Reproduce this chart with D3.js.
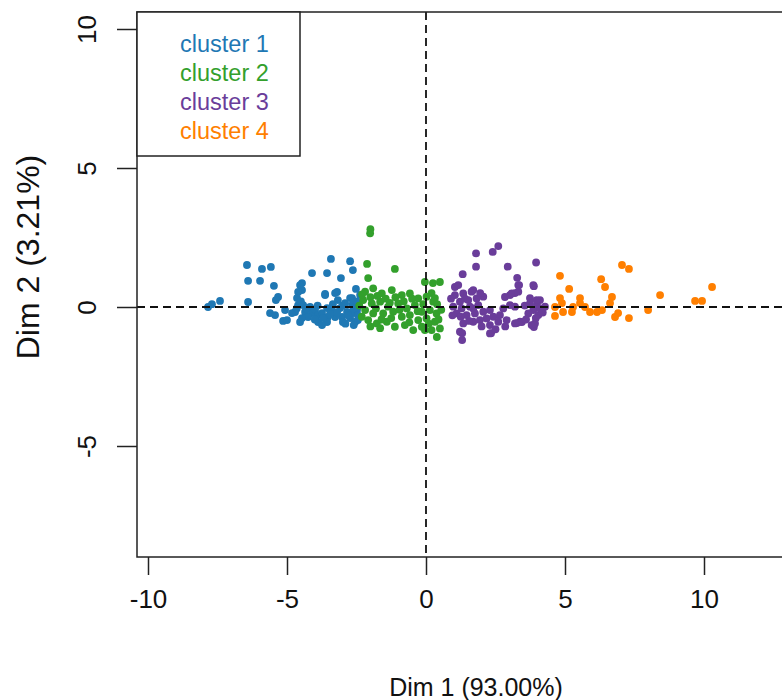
<!DOCTYPE html>
<html>
<head>
<meta charset="utf-8">
<script src="https://cdn.jsdelivr.net/npm/d3@7"></script>
<style>
  html, body { margin: 0; padding: 0; background: #fff; }
  svg text { font-family: "Liberation Sans", Arial, sans-serif; }
</style>
</head>
<body>
<svg id="chart" width="782" height="700"></svg>
<script>
const clusterNames = ["cluster 1", "cluster 2", "cluster 3", "cluster 4"];
const clusterColors = ["#1F78B4", "#33A02C", "#6A3D9A", "#FF7F00"];
const xTicks = [-10, -5, 0, 5, 10];
const yTicks = [-5, 0, 5, 10];
const xLabel = "Dim 1 (93.00%)";
const yLabel = "Dim 2 (3.21%)";

const cluster1 = [
  [-7.84,0.0],[-7.7,0.1],[-7.41,0.22],[-6.44,1.51],[-6.4,0.94],[-6.4,0.18],[-5.9,1.37],[-5.97,0.94],
  [-5.58,1.44],[-5.47,0.76],[-5.32,0.36],[-5.4,0.25],[-5.61,-0.22],[-5.43,-0.29],[-5.07,-0.11],[-5.14,-0.5],
  [-3.42,1.73],[-2.73,1.65],[-4.1,1.22],[-3.56,1.22],[-3.06,1.04],[-2.63,1.33],[-4.46,0.86],[-4.46,0.61],
  [-3.63,0.47],[-3.2,0.54],[-2.66,0.32],[-2.52,0.65],
  [-4.53,0.79],[-4.6,0.54],[-4.64,0.32],[-4.6,0.07],[-4.71,-0.18],[-4.42,0.07],[-4.35,-0.18],[-4.17,0.0],
  [-4.1,-0.22],[-3.99,-0.11],[-3.88,-0.29],[-3.74,-0.22],[-3.63,0.43],[-3.56,-0.04],[-3.53,-0.36],[-3.56,-0.54],
  [-3.38,-0.11],[-3.27,-0.36],[-3.27,0.5],[-3.17,0.25],[-3.09,-0.04],[-3.02,-0.36],[-2.99,-0.54],[-2.91,0.14],
  [-2.84,-0.18],[-2.73,0.32],[-2.66,0.07],[-2.73,-0.4],[-2.63,-0.22],[-2.48,-0.11],[-2.55,-0.54],[-3.88,-0.54],
  [-3.74,-0.65],[-4.24,-0.36],[-4.46,-0.4],[-4.82,-0.22],[-5.0,-0.47],[-2.37,0.43],[-2.45,-0.47],[-4.53,-0.54],
  [-4.5,0.2],[-4.3,-0.05],[-3.9,0.05],[-3.7,-0.4],[-3.45,-0.25],[-3.2,-0.2],[-3.0,0.05],[-2.8,-0.3],
  [-2.6,-0.05],[-2.5,0.2],[-2.45,-0.3],[-4.65,-0.05],[-3.35,0.1],[-2.9,-0.6],[-4.0,-0.45],[-2.6,-0.65]
];
const cluster2 = [
  [-2.01,2.65],[-2.0,2.8],[-2.12,1.55],[-2.08,1.04],[-1.12,1.37],[-0.04,0.9],[0.25,0.86],[0.2,0.5],
  [0.32,0.32],[0.5,0.9],[0.39,-1.08],[-0.04,-0.83],[-1.65,-0.76],
  [-2.19,0.55],[-1.9,0.67],[-1.59,0.49],[-1.23,0.61],[-0.87,0.43],[-0.58,0.49],[-0.28,0.31],[0.02,0.37],
  [0.26,0.19],[-2.26,0.25],[-1.95,0.13],[-1.65,0.19],[-1.36,0.01],[-1.0,0.13],[-0.69,-0.05],[-0.4,0.07],
  [-0.15,-0.17],[0.14,-0.11],[0.38,-0.23],[-2.19,-0.11],[-1.9,-0.23],[-1.54,-0.23],[-1.18,-0.17],[-0.87,-0.35],
  [-0.58,-0.29],[-0.28,-0.47],[0.02,-0.41],[0.32,-0.53],[-2.08,-0.47],[-1.77,-0.59],[-1.41,-0.53],[-1.12,-0.71],
  [-0.76,-0.65],[-0.46,-0.83],[-0.15,-0.71],[0.2,-0.83],[0.5,-0.77],[-2.31,-0.35],[-2.4,0.05],[-0.5,0.3],
  [-1.8,-0.05],[0.55,-0.1],[-1.1,0.35],[0.4,0.1],
  [-2.0,0.35],[-1.75,0.4],[-1.45,0.3],[-1.25,-0.4],[-0.95,-0.1],[-0.8,0.2],[-0.3,-0.15],[-0.1,0.1],
  [0.1,-0.6],[-0.6,-0.55],[-1.6,-0.45],[-2.0,-0.7],[-1.3,0.15],[0.45,-0.45],[-2.3,0.45]
];
const cluster3 = [
  [2.6,2.19],[2.4,1.98],[1.8,1.93],[3.96,1.6],[1.8,1.45],[2.94,1.45],[1.32,1.18],[3.28,1.05],
  [3.35,0.79],[3.88,0.75],[1.04,0.72],[1.7,0.61],[2.84,0.36],[3.02,0.43],[3.2,0.5],[3.74,0.32],
  [4.1,0.25],[3.99,0.07],[1.3,-0.94],[1.3,-1.19],[2.34,-0.94],[3.27,-0.58],[3.45,-0.54],[3.88,-0.72],
  [1.16,0.79],[1.04,0.43],[1.34,0.49],[1.64,0.55],[1.22,0.19],[1.52,0.25],[1.82,0.31],[0.98,0.01],
  [1.28,-0.05],[1.58,0.01],[1.88,0.07],[2.06,0.37],[1.1,-0.23],[1.46,-0.29],[1.76,-0.23],[2.06,-0.17],
  [2.3,-0.11],[2.18,-0.41],[2.42,-0.35],[2.66,-0.29],[2.6,-0.53],[2.9,-0.47],[2.3,-0.65],[2.78,-0.05],
  [3.02,0.07],[3.2,0.01],[3.08,0.49],[3.32,0.55],[3.74,0.13],[3.98,0.25],[3.86,-0.11],[4.1,-0.05],
  [3.68,-0.23],[4.04,-0.29],[4.28,0.01],[3.38,-0.53],[3.2,-0.59],[3.8,-0.65],[3.92,-0.59],[1.34,-0.59],
  [1.7,-0.53],[1.94,-0.47],[1.22,-0.89],[2.3,-0.95],[3.32,0.79],[3.86,0.79],
  [0.9,0.3],[1.4,0.3],[1.7,-0.05],[1.25,-0.35],[1.55,-0.5],[2.0,-0.7],[2.5,-0.8],[2.85,-0.7],
  [3.6,-0.45],[3.95,-0.4],[3.55,0.05],[4.2,-0.2],[0.95,-0.3],[1.95,0.5]
];
const cluster4 = [
  [7.05,1.51],[7.3,1.37],[4.82,1.12],[6.3,1.0],[6.44,0.72],[5.15,0.65],[10.29,0.72],[8.42,0.43],
  [9.68,0.22],[9.93,0.22],[4.82,0.32],[4.89,0.14],[5.54,0.32],[5.54,0.14],[5.72,0.0],[6.69,0.36],
  [6.62,0.14],[4.64,0.0],[4.64,-0.32],[5.25,-0.18],[5.9,-0.18],[6.15,-0.18],[6.33,-0.11],[6.91,-0.22],
  [6.8,-0.36],[7.3,-0.4],[7.99,-0.11],[5.29,0.0],[4.93,-0.18]
];
const clusters = [cluster1, cluster2, cluster3, cluster4];

const svg = d3.select("#chart");
const box = {left: 137, top: 12, right: 815, bottom: 557};

const x = d3.scaleLinear().domain([-10, 10]).range([148, 704]);
const y = d3.scaleLinear().domain([-5, 10]).range([446, 29]);

// points
clusters.forEach((pts, i) => {
  svg.append("g").selectAll("circle").data(pts).join("circle")
    .attr("cx", d => x(d[0])).attr("cy", d => y(d[1]))
    .attr("r", 3.9).attr("fill", clusterColors[i]);
});

// dashed reference lines
svg.append("line").attr("x1", box.left).attr("x2", box.right)
  .attr("y1", y(0)).attr("y2", y(0))
  .attr("stroke", "#111").attr("stroke-width", 1.8).attr("stroke-dasharray", "8,5");
svg.append("line").attr("x1", x(0)).attr("x2", x(0))
  .attr("y1", box.top).attr("y2", box.bottom)
  .attr("stroke", "#111").attr("stroke-width", 1.8).attr("stroke-dasharray", "8,5");

// box
svg.append("rect").attr("x", box.left).attr("y", box.top)
  .attr("width", box.right - box.left).attr("height", box.bottom - box.top)
  .attr("fill", "none").attr("stroke", "#222").attr("stroke-width", 1.5);

// x axis (ticks only, drawn from box)
const xAxis = d3.axisBottom(x).tickValues(xTicks).tickSize(18).tickPadding(15).tickFormat(d3.format("d"));
const gx = svg.append("g").attr("transform", `translate(0,${box.bottom})`).call(xAxis);
gx.select(".domain").remove();
gx.selectAll(".tick line").attr("stroke", "#222").attr("stroke-width", 1.5);
gx.selectAll(".tick text").attr("font-size", 26).attr("fill", "#111")
  .attr("font-family", "Liberation Sans, Arial, sans-serif").text(d => d < 0 ? "-" + Math.abs(d) : d);

// y axis
const yAxis = d3.axisLeft(y).tickValues(yTicks).tickSize(20).tickPadding(0).tickFormat(d3.format("d"));
const gy = svg.append("g").attr("transform", `translate(${box.left},0)`).call(yAxis);
gy.select(".domain").remove();
gy.selectAll(".tick line").attr("stroke", "#222").attr("stroke-width", 1.5);
gy.selectAll(".tick text").attr("font-size", 26).attr("fill", "#111")
  .attr("font-family", "Liberation Sans, Arial, sans-serif")
  .attr("x", null).attr("dy", null)
  .attr("text-anchor", "middle")
  .attr("transform", "translate(-50,0) rotate(-90)")
  .attr("dy", "0.35em")
  .text(d => d < 0 ? "-" + Math.abs(d) : d);

// axis titles
svg.append("text").attr("x", 476).attr("y", 696).attr("text-anchor", "middle")
  .attr("font-size", 25).attr("fill", "#111").text(xLabel);
svg.append("text").attr("transform", `translate(39,257) rotate(-90)`)
  .attr("text-anchor", "middle").attr("font-size", 32).attr("fill", "#111").text(yLabel);

// legend
svg.append("rect").attr("x", box.left).attr("y", box.top).attr("width", 163).attr("height", 144)
  .attr("fill", "#fff").attr("stroke", "#222").attr("stroke-width", 1.5);
clusterNames.forEach((n, i) => {
  svg.append("text").attr("x", 180).attr("y", 52 + i * 29)
    .attr("font-size", 23.5).attr("fill", clusterColors[i]).text(n);
});
</script>
</body>
</html>
